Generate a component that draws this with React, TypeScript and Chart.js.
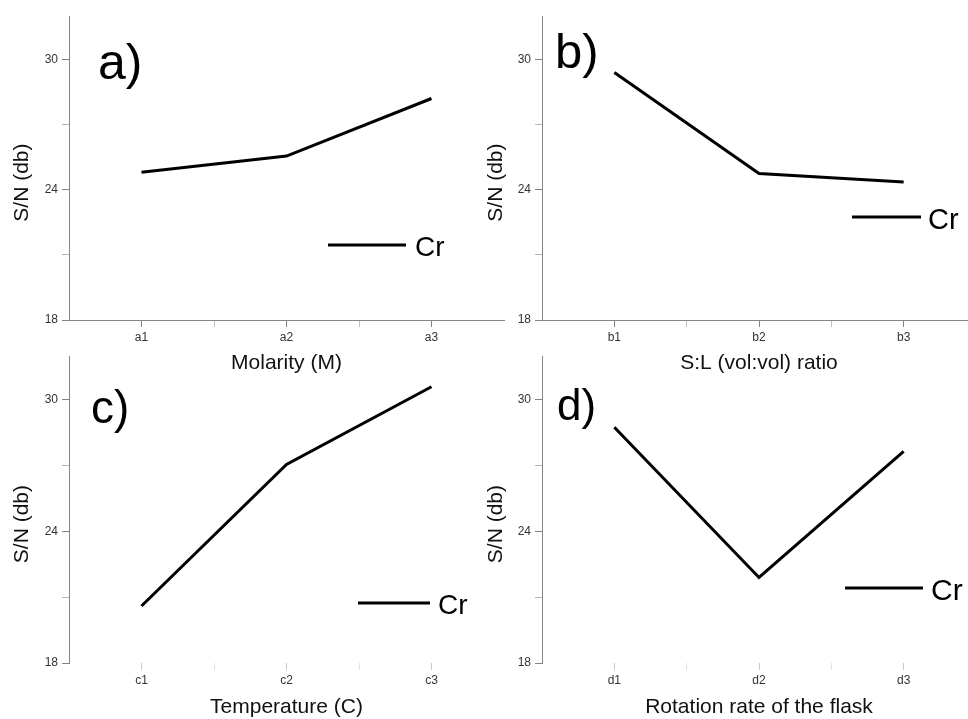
import React, { useEffect, useRef } from "react";
import { Chart, registerables } from "chart.js";

Chart.register(...registerables);

// ---------- data ----------
const seriesLabel = "Cr";
const yAxisTitle = "S/N (db)";
const yMin = 18;
const yMax = 32;
const yMinorStep = 3;
const yMajorStep = 6;

const molarityLevels = ["a1", "a2", "a3"];
const molaritySN = [24.8, 25.55, 28.2];

const ratioLevels = ["b1", "b2", "b3"];
const ratioSN = [29.4, 24.75, 24.35];

const temperatureLevels = ["c1", "c2", "c3"];
const temperatureSN = [20.6, 27.05, 30.6];

const rotationLevels = ["d1", "d2", "d3"];
const rotationSN = [28.75, 21.9, 27.65];

// ---------- layout / style ----------
const FONT = '"Liberation Sans", Arial, Helvetica, sans-serif';

type PanelCfg = {
  letter: string;
  xTitle: string;
  levels: string[];
  values: number[];
  box: { left: number; top: number; width: number; height: number };
  yAxisWidth: number;
  xAxisHeight: number;
  padRight: number;
  padTop: number;
  yTitlePad: number;
  showXBorder: boolean;
  decor: {
    letterDx: number;
    letterDy: number;
    letterSize: number;
    legendDx: number;
    legendDy: number;
    legendLen: number;
    legendGap: number;
    legendSize: number;
  };
};

const panels: PanelCfg[] = [
  {
    letter: "a)",
    xTitle: "Molarity (M)",
    levels: molarityLevels,
    values: molaritySN,
    box: { left: 0, top: 0, width: 520, height: 376 },
    yAxisWidth: 69,
    xAxisHeight: 56,
    padRight: 16,
    padTop: 16,
    yTitlePad: 10,
    showXBorder: true,
    decor: { letterDx: 29, letterDy: 63, letterSize: 50, legendDx: 259, legendDy: 229, legendLen: 78, legendGap: 9, legendSize: 28 },
  },
  {
    letter: "b)",
    xTitle: "S:L (vol:vol) ratio",
    levels: ratioLevels,
    values: ratioSN,
    box: { left: 484, top: 0, width: 500, height: 376 },
    yAxisWidth: 58,
    xAxisHeight: 56,
    padRight: 8,
    padTop: 16,
    yTitlePad: 0,
    showXBorder: true,
    decor: { letterDx: 13, letterDy: 52, letterSize: 49, legendDx: 310, legendDy: 201, legendLen: 69, legendGap: 7, legendSize: 29 },
  },
  {
    letter: "c)",
    xTitle: "Temperature (C)",
    levels: temperatureLevels,
    values: temperatureSN,
    box: { left: 0, top: 340, width: 520, height: 380 },
    yAxisWidth: 69,
    xAxisHeight: 57,
    padRight: 16,
    padTop: 16,
    yTitlePad: 10,
    showXBorder: false,
    decor: { letterDx: 22, letterDy: 67, letterSize: 46, legendDx: 289, legendDy: 247, legendLen: 72, legendGap: 8, legendSize: 28 },
  },
  {
    letter: "d)",
    xTitle: "Rotation rate of the flask",
    levels: rotationLevels,
    values: rotationSN,
    box: { left: 484, top: 340, width: 500, height: 380 },
    yAxisWidth: 58,
    xAxisHeight: 57,
    padRight: 8,
    padTop: 16,
    yTitlePad: 0,
    showXBorder: false,
    decor: { letterDx: 15, letterDy: 64, letterSize: 44, legendDx: 303, legendDy: 232, legendLen: 78, legendGap: 8, legendSize: 30 },
  },
];

const panelDecor = {
  id: "panelDecor",
  afterDatasetsDraw(chart: any, _args: any, opts: any) {
    const { ctx, chartArea } = chart;
    const ds = chart.data.datasets[0];
    ctx.save();
    ctx.fillStyle = "#000";
    ctx.textAlign = "left";
    ctx.textBaseline = "alphabetic";
    ctx.font = `${opts.letterSize}px ${FONT}`;
    ctx.fillText(opts.letter, chartArea.left + opts.letterDx, chartArea.top + opts.letterDy);

    const lx = chartArea.left + opts.legendDx;
    const ly = chartArea.top + opts.legendDy;
    ctx.strokeStyle = ds.borderColor;
    ctx.lineWidth = ds.borderWidth;
    ctx.beginPath();
    ctx.moveTo(lx, ly);
    ctx.lineTo(lx + opts.legendLen, ly);
    ctx.stroke();
    ctx.font = `${opts.legendSize}px ${FONT}`;
    ctx.fillText(ds.label, lx + opts.legendLen + opts.legendGap, ly + opts.legendSize * 0.4);
    ctx.restore();
  },
};

function Panel({ cfg }: { cfg: PanelCfg }) {
  const ref = useRef<HTMLCanvasElement>(null);
  useEffect(() => {
    const axisColor = "#858585";
    const xMajorTick = cfg.showXBorder ? "#858585" : "#c8c8c8";
    const xMinorTick = cfg.showXBorder ? "#c0c0c0" : "#e2e2e2";
    const chart = new Chart(ref.current as HTMLCanvasElement, {
      type: "line",
      data: {
        datasets: [
          {
            label: seriesLabel,
            data: cfg.values.map((v, i) => ({ x: i + 1, y: v })),
            borderColor: "#000000",
            borderWidth: 3,
            pointRadius: 0,
            fill: false,
            tension: 0,
          },
        ],
      },
      options: {
        responsive: false,
        animation: false,
        events: [],
        layout: { padding: { left: 0, top: cfg.padTop, right: cfg.padRight, bottom: 0 } },
        plugins: {
          legend: { display: false },
          tooltip: { enabled: false },
          panelDecor: { letter: cfg.letter, ...cfg.decor },
        } as any,
        scales: {
          x: {
            type: "linear",
            min: 0.5,
            max: cfg.levels.length + 0.5,
            afterFit: (s: any) => {
              s.height = cfg.xAxisHeight;
            },
            ticks: {
              stepSize: 0.5,
              autoSkip: false,
              maxRotation: 0,
              padding: 3,
              color: "#333",
              font: { size: 12, family: FONT },
              callback: (v: any) => (Number.isInteger(v) ? cfg.levels[v - 1] : ""),
            },
            grid: {
              drawOnChartArea: false,
              drawTicks: true,
              tickLength: 7,
              tickColor: (c: any) => {
                const v = c.tick ? c.tick.value : 0;
                if (v <= 0.5 || v >= cfg.levels.length + 0.5) return "rgba(0,0,0,0)";
                return Number.isInteger(v) ? xMajorTick : xMinorTick;
              },
            },
            border: { display: cfg.showXBorder, color: axisColor, width: 1 },
            title: {
              display: true,
              text: cfg.xTitle,
              color: "#111",
              font: { size: 21, family: FONT },
              padding: { top: 0, bottom: 0 },
            },
          },
          y: {
            type: "linear",
            min: yMin,
            max: yMax,
            afterFit: (s: any) => {
              s.width = cfg.yAxisWidth;
            },
            ticks: {
              stepSize: yMinorStep,
              includeBounds: false,
              padding: 4,
              color: "#333",
              font: { size: 12, family: FONT },
              callback: (v: any) => (v % yMajorStep === 0 ? String(v) : ""),
            },
            grid: {
              drawOnChartArea: false,
              drawTicks: true,
              tickLength: 7,
              tickColor: (c: any) => {
                const v = c.tick ? c.tick.value : 0;
                return v % yMajorStep === 0 ? axisColor : "#b5b5b5";
              },
            },
            border: { display: true, color: axisColor, width: 1 },
            title: {
              display: true,
              text: yAxisTitle + "     ",
              color: "#111",
              font: { size: 21, family: FONT },
              padding: { top: cfg.yTitlePad, bottom: 0 },
            },
          },
        },
      },
      plugins: [panelDecor],
    } as any);
    return () => chart.destroy();
  }, [cfg]);
  return (
    <canvas
      ref={ref}
      width={cfg.box.width}
      height={cfg.box.height}
      style={{
        position: "absolute",
        left: cfg.box.left,
        top: cfg.box.top,
        width: cfg.box.width,
        height: cfg.box.height,
        display: "block",
      }}
    />
  );
}

export default function App() {
  return (
    <div
      style={{
        position: "fixed",
        left: 0,
        top: 0,
        width: 968,
        height: 719,
        overflow: "hidden",
        background: "#fff",
      }}
    >
      {panels.map((p) => (
        <Panel key={p.letter} cfg={p} />
      ))}
    </div>
  );
}
